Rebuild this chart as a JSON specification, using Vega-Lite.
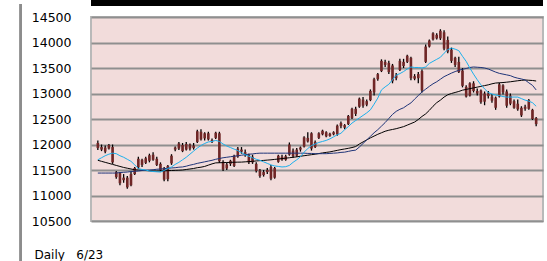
{
  "$schema": "https://vega.github.io/schema/vega-lite/v6.json",
  "autosize": {"type": "none"},
  "width": 452,
  "height": 204,
  "padding": {"left": 91, "top": 17, "right": 4, "bottom": 40},
  "background": "white",
  "config": {
    "view": {"fill": "#f2dcdb", "stroke": "#b9b9b9", "strokeWidth": 2},
    "font": "DejaVu Sans"
  },
  "data": {"values": [
    {"t":1,"open":12030,"high":12080,"low":11890,"close":11930,"ma1":11700,"ma2":11440,"ma3":11690},
    {"t":2,"open":11950,"high":12000,"low":11870,"close":11900,"ma1":11740,"ma2":11440,"ma3":11670},
    {"t":3,"open":11940,"high":11980,"low":11830,"close":11860,"ma1":11780,"ma2":11440,"ma3":11650},
    {"t":4,"open":11990,"high":12010,"low":11900,"close":11920,"ma1":11810,"ma2":11440,"ma3":11630},
    {"t":5,"open":11950,"high":12000,"low":11620,"close":11650,"ma1":11830,"ma2":11440,"ma3":11610},
    {"t":6,"open":11460,"high":11480,"low":11330,"close":11360,"ma1":11820,"ma2":11440,"ma3":11590},
    {"t":7,"open":11440,"high":11460,"low":11200,"close":11240,"ma1":11780,"ma2":11450,"ma3":11570},
    {"t":8,"open":11350,"high":11420,"low":11250,"close":11300,"ma1":11750,"ma2":11455,"ma3":11550},
    {"t":9,"open":11350,"high":11380,"low":11130,"close":11160,"ma1":11710,"ma2":11460,"ma3":11535},
    {"t":10,"open":11200,"high":11460,"low":11180,"close":11420,"ma1":11670,"ma2":11470,"ma3":11520},
    {"t":11,"open":11420,"high":11560,"low":11400,"close":11540,"ma1":11600,"ma2":11475,"ma3":11505},
    {"t":12,"open":11550,"high":11760,"low":11520,"close":11720,"ma1":11530,"ma2":11480,"ma3":11500},
    {"t":13,"open":11700,"high":11720,"low":11560,"close":11600,"ma1":11510,"ma2":11490,"ma3":11495},
    {"t":14,"open":11640,"high":11760,"low":11620,"close":11730,"ma1":11500,"ma2":11495,"ma3":11490},
    {"t":15,"open":11680,"high":11820,"low":11650,"close":11790,"ma1":11480,"ma2":11500,"ma3":11485},
    {"t":16,"open":11800,"high":11850,"low":11680,"close":11700,"ma1":11470,"ma2":11505,"ma3":11480},
    {"t":17,"open":11720,"high":11760,"low":11580,"close":11600,"ma1":11465,"ma2":11515,"ma3":11480},
    {"t":18,"open":11620,"high":11650,"low":11480,"close":11500,"ma1":11460,"ma2":11520,"ma3":11482},
    {"t":19,"open":11530,"high":11560,"low":11280,"close":11310,"ma1":11490,"ma2":11525,"ma3":11485},
    {"t":20,"open":11320,"high":11600,"low":11280,"close":11580,"ma1":11530,"ma2":11535,"ma3":11488},
    {"t":21,"open":11630,"high":11810,"low":11600,"close":11780,"ma1":11560,"ma2":11540,"ma3":11490},
    {"t":22,"open":11900,"high":11960,"low":11870,"close":11940,"ma1":11610,"ma2":11545,"ma3":11493},
    {"t":23,"open":11920,"high":12050,"low":11890,"close":12020,"ma1":11650,"ma2":11555,"ma3":11496},
    {"t":24,"open":11990,"high":12030,"low":11850,"close":11870,"ma1":11700,"ma2":11560,"ma3":11500},
    {"t":25,"open":11900,"high":12050,"low":11880,"close":12010,"ma1":11750,"ma2":11575,"ma3":11510},
    {"t":26,"open":12000,"high":12020,"low":11880,"close":11920,"ma1":11810,"ma2":11595,"ma3":11520},
    {"t":27,"open":11930,"high":12030,"low":11900,"close":11980,"ma1":11870,"ma2":11610,"ma3":11530},
    {"t":28,"open":12050,"high":12290,"low":12030,"close":12260,"ma1":11930,"ma2":11630,"ma3":11545},
    {"t":29,"open":12250,"high":12300,"low":12080,"close":12100,"ma1":11980,"ma2":11645,"ma3":11555},
    {"t":30,"open":12120,"high":12240,"low":12080,"close":12220,"ma1":12020,"ma2":11660,"ma3":11570},
    {"t":31,"open":12220,"high":12250,"low":12080,"close":12100,"ma1":12050,"ma2":11675,"ma3":11595},
    {"t":32,"open":12090,"high":12120,"low":12030,"close":12060,"ma1":12060,"ma2":11690,"ma3":11620},
    {"t":33,"open":12130,"high":12250,"low":12110,"close":12230,"ma1":12080,"ma2":11710,"ma3":11640},
    {"t":34,"open":12220,"high":12250,"low":11640,"close":11670,"ma1":12060,"ma2":11725,"ma3":11642},
    {"t":35,"open":11660,"high":11690,"low":11480,"close":11510,"ma1":12010,"ma2":11740,"ma3":11645},
    {"t":36,"open":11530,"high":11640,"low":11500,"close":11610,"ma1":11970,"ma2":11750,"ma3":11647},
    {"t":37,"open":11620,"high":11700,"low":11580,"close":11680,"ma1":11940,"ma2":11760,"ma3":11650},
    {"t":38,"open":11580,"high":11800,"low":11560,"close":11780,"ma1":11910,"ma2":11770,"ma3":11652},
    {"t":39,"open":11760,"high":11950,"low":11740,"close":11920,"ma1":11880,"ma2":11780,"ma3":11654},
    {"t":40,"open":11900,"high":11950,"low":11820,"close":11860,"ma1":11840,"ma2":11790,"ma3":11655},
    {"t":41,"open":11850,"high":11900,"low":11760,"close":11800,"ma1":11800,"ma2":11800,"ma3":11660},
    {"t":42,"open":11790,"high":11820,"low":11620,"close":11650,"ma1":11770,"ma2":11810,"ma3":11665},
    {"t":43,"open":11650,"high":11800,"low":11620,"close":11760,"ma1":11740,"ma2":11815,"ma3":11670},
    {"t":44,"open":11620,"high":11650,"low":11450,"close":11480,"ma1":11710,"ma2":11825,"ma3":11678},
    {"t":45,"open":11490,"high":11520,"low":11350,"close":11380,"ma1":11690,"ma2":11830,"ma3":11683},
    {"t":46,"open":11400,"high":11500,"low":11370,"close":11460,"ma1":11660,"ma2":11830,"ma3":11688},
    {"t":47,"open":11460,"high":11540,"low":11420,"close":11500,"ma1":11630,"ma2":11830,"ma3":11694},
    {"t":48,"open":11560,"high":11600,"low":11300,"close":11330,"ma1":11600,"ma2":11830,"ma3":11700},
    {"t":49,"open":11350,"high":11560,"low":11330,"close":11540,"ma1":11580,"ma2":11830,"ma3":11708},
    {"t":50,"open":11660,"high":11800,"low":11640,"close":11780,"ma1":11570,"ma2":11830,"ma3":11716},
    {"t":51,"open":11760,"high":11800,"low":11680,"close":11700,"ma1":11560,"ma2":11830,"ma3":11724},
    {"t":52,"open":11700,"high":11800,"low":11680,"close":11770,"ma1":11565,"ma2":11830,"ma3":11732},
    {"t":53,"open":11800,"high":12040,"low":11780,"close":12000,"ma1":11590,"ma2":11830,"ma3":11740},
    {"t":54,"open":11880,"high":11920,"low":11740,"close":11770,"ma1":11650,"ma2":11830,"ma3":11750},
    {"t":55,"open":11780,"high":11930,"low":11760,"close":11900,"ma1":11700,"ma2":11830,"ma3":11758},
    {"t":56,"open":11900,"high":11960,"low":11860,"close":11940,"ma1":11760,"ma2":11830,"ma3":11770},
    {"t":57,"open":11960,"high":12160,"low":11940,"close":12140,"ma1":11850,"ma2":11830,"ma3":11780},
    {"t":58,"open":12130,"high":12240,"low":12040,"close":12060,"ma1":11920,"ma2":11825,"ma3":11790},
    {"t":59,"open":12220,"high":12240,"low":11880,"close":11920,"ma1":11980,"ma2":11825,"ma3":11800},
    {"t":60,"open":11950,"high":12080,"low":11930,"close":12050,"ma1":12010,"ma2":11820,"ma3":11810},
    {"t":61,"open":12130,"high":12240,"low":12110,"close":12220,"ma1":12040,"ma2":11820,"ma3":11822},
    {"t":62,"open":12200,"high":12290,"low":12180,"close":12270,"ma1":12060,"ma2":11820,"ma3":11835},
    {"t":63,"open":12240,"high":12260,"low":12140,"close":12160,"ma1":12080,"ma2":11820,"ma3":11845},
    {"t":64,"open":12170,"high":12230,"low":12150,"close":12210,"ma1":12110,"ma2":11825,"ma3":11855},
    {"t":65,"open":12200,"high":12260,"low":12180,"close":12240,"ma1":12150,"ma2":11830,"ma3":11870},
    {"t":66,"open":12200,"high":12390,"low":12170,"close":12370,"ma1":12190,"ma2":11835,"ma3":11885},
    {"t":67,"open":12360,"high":12450,"low":12320,"close":12420,"ma1":12220,"ma2":11845,"ma3":11900},
    {"t":68,"open":12330,"high":12400,"low":12300,"close":12380,"ma1":12290,"ma2":11850,"ma3":11912},
    {"t":69,"open":12400,"high":12580,"low":12380,"close":12560,"ma1":12350,"ma2":11865,"ma3":11925},
    {"t":70,"open":12520,"high":12720,"low":12500,"close":12700,"ma1":12420,"ma2":11880,"ma3":11940},
    {"t":71,"open":12700,"high":12740,"low":12560,"close":12600,"ma1":12470,"ma2":11890,"ma3":11960},
    {"t":72,"open":12740,"high":12920,"low":12720,"close":12900,"ma1":12520,"ma2":11950,"ma3":12010},
    {"t":73,"open":12880,"high":12930,"low":12720,"close":12760,"ma1":12570,"ma2":12020,"ma3":12050},
    {"t":74,"open":12780,"high":12880,"low":12750,"close":12850,"ma1":12620,"ma2":12090,"ma3":12090},
    {"t":75,"open":12870,"high":13080,"low":12850,"close":13050,"ma1":12680,"ma2":12160,"ma3":12130},
    {"t":76,"open":13020,"high":13310,"low":12960,"close":13280,"ma1":12790,"ma2":12230,"ma3":12165},
    {"t":77,"open":13280,"high":13400,"low":13250,"close":13380,"ma1":12910,"ma2":12290,"ma3":12200},
    {"t":78,"open":13440,"high":13670,"low":13420,"close":13640,"ma1":13070,"ma2":12360,"ma3":12230},
    {"t":79,"open":13620,"high":13660,"low":13520,"close":13560,"ma1":13130,"ma2":12430,"ma3":12260},
    {"t":80,"open":13600,"high":13640,"low":13380,"close":13420,"ma1":13180,"ma2":12510,"ma3":12280},
    {"t":81,"open":13550,"high":13580,"low":13200,"close":13240,"ma1":13270,"ma2":12590,"ma3":12295},
    {"t":82,"open":13300,"high":13400,"low":13260,"close":13360,"ma1":13360,"ma2":12650,"ma3":12310},
    {"t":83,"open":13460,"high":13680,"low":13440,"close":13640,"ma1":13390,"ma2":12690,"ma3":12330},
    {"t":84,"open":13620,"high":13680,"low":13500,"close":13540,"ma1":13430,"ma2":12720,"ma3":12350},
    {"t":85,"open":13620,"high":13760,"low":13600,"close":13740,"ma1":13480,"ma2":12770,"ma3":12380},
    {"t":86,"open":13700,"high":13720,"low":13260,"close":13300,"ma1":13520,"ma2":12815,"ma3":12410},
    {"t":87,"open":13340,"high":13380,"low":13260,"close":13290,"ma1":13510,"ma2":12890,"ma3":12440},
    {"t":88,"open":13300,"high":13420,"low":13200,"close":13380,"ma1":13510,"ma2":12960,"ma3":12490},
    {"t":89,"open":13060,"high":13470,"low":13020,"close":13440,"ma1":13500,"ma2":13030,"ma3":12550},
    {"t":90,"open":13620,"high":13960,"low":13600,"close":13920,"ma1":13520,"ma2":13085,"ma3":12600},
    {"t":91,"open":13920,"high":14060,"low":13900,"close":14040,"ma1":13590,"ma2":13140,"ma3":12670},
    {"t":92,"open":14060,"high":14200,"low":14040,"close":14180,"ma1":13630,"ma2":13190,"ma3":12750},
    {"t":93,"open":14150,"high":14180,"low":14060,"close":14080,"ma1":13670,"ma2":13230,"ma3":12820},
    {"t":94,"open":14080,"high":14260,"low":14050,"close":14230,"ma1":13710,"ma2":13280,"ma3":12870},
    {"t":95,"open":14200,"high":14240,"low":13850,"close":13880,"ma1":13790,"ma2":13330,"ma3":12930},
    {"t":96,"open":14050,"high":14120,"low":13790,"close":13820,"ma1":13860,"ma2":13365,"ma3":12975},
    {"t":97,"open":13860,"high":13900,"low":13600,"close":13640,"ma1":13890,"ma2":13400,"ma3":13000},
    {"t":98,"open":13700,"high":13720,"low":13520,"close":13560,"ma1":13870,"ma2":13430,"ma3":13020},
    {"t":99,"open":13620,"high":13720,"low":13400,"close":13420,"ma1":13840,"ma2":13455,"ma3":13040},
    {"t":100,"open":13450,"high":13500,"low":13120,"close":13150,"ma1":13730,"ma2":13475,"ma3":13065},
    {"t":101,"open":13130,"high":13160,"low":12920,"close":12940,"ma1":13630,"ma2":13490,"ma3":13080},
    {"t":102,"open":12960,"high":13220,"low":12940,"close":13200,"ma1":13500,"ma2":13510,"ma3":13095},
    {"t":103,"open":13200,"high":13240,"low":13020,"close":13050,"ma1":13380,"ma2":13520,"ma3":13110},
    {"t":104,"open":13050,"high":13100,"low":12960,"close":13000,"ma1":13270,"ma2":13515,"ma3":13125},
    {"t":105,"open":13060,"high":13080,"low":12800,"close":12830,"ma1":13170,"ma2":13510,"ma3":13140},
    {"t":106,"open":12840,"high":13040,"low":12770,"close":13000,"ma1":13090,"ma2":13500,"ma3":13155},
    {"t":107,"open":13000,"high":13050,"low":12900,"close":12950,"ma1":13020,"ma2":13480,"ma3":13170},
    {"t":108,"open":12940,"high":12990,"low":12820,"close":12860,"ma1":12990,"ma2":13450,"ma3":13190},
    {"t":109,"open":12920,"high":12940,"low":12680,"close":12720,"ma1":12970,"ma2":13420,"ma3":13205},
    {"t":110,"open":12940,"high":13210,"low":12920,"close":13180,"ma1":12960,"ma2":13395,"ma3":13210},
    {"t":111,"open":13160,"high":13180,"low":12980,"close":13020,"ma1":12940,"ma2":13380,"ma3":13215},
    {"t":112,"open":13040,"high":13080,"low":12720,"close":12760,"ma1":12930,"ma2":13365,"ma3":13222},
    {"t":113,"open":12960,"high":13000,"low":12770,"close":12800,"ma1":12930,"ma2":13350,"ma3":13230},
    {"t":114,"open":12850,"high":12880,"low":12700,"close":12720,"ma1":12930,"ma2":13320,"ma3":13240},
    {"t":115,"open":12800,"high":12880,"low":12660,"close":12690,"ma1":12930,"ma2":13300,"ma3":13250},
    {"t":116,"open":12720,"high":12750,"low":12540,"close":12570,"ma1":12900,"ma2":13285,"ma3":13258},
    {"t":117,"open":12700,"high":12780,"low":12660,"close":12740,"ma1":12870,"ma2":13265,"ma3":13265},
    {"t":118,"open":12870,"high":12890,"low":12680,"close":12700,"ma1":12850,"ma2":13210,"ma3":13260},
    {"t":119,"open":12680,"high":12700,"low":12480,"close":12500,"ma1":12820,"ma2":13160,"ma3":13255},
    {"t":120,"open":12520,"high":12540,"low":12360,"close":12400,"ma1":12750,"ma2":13070,"ma3":13245}
  ]},
  "layer": [
    {
      "mark": {"type": "rule", "color": "#000000", "strokeWidth": 1.3},
      "encoding": {
        "x": {
          "field": "t", "type": "quantitative",
          "scale": {"domain": [0.5, 120.5], "nice": false, "zero": false},
          "axis": {
            "labels": false, "ticks": false, "domain": false, "grid": false,
            "title": "Daily\u00a0\u00a0\u00a06/23",
            "titleFont": "DejaVu Sans", "titleFontSize": 12, "titleFontWeight": "normal", "titleColor": "#000000",
            "titleAnchor": "start", "titleAlign": "left", "titleX": -57, "titleY": 37, "titleBaseline": "alphabetic"
          }
        },
        "y": {
          "field": "low", "type": "quantitative",
          "scale": {"domain": [10500, 14500], "nice": false, "zero": false},
          "axis": {
            "values": [10500, 11000, 11500, 12000, 12500, 13000, 13500, 14000, 14500],
            "tickCount": 20, "labelOverlap": false,
            "format": "d", "title": null, "domain": false, "ticks": false,
            "grid": true, "gridColor": "#8f8f8f", "gridWidth": 2,
            "labelFont": "DejaVu Sans", "labelFontSize": 12.5, "labelColor": "#000000", "labelPadding": 20
          }
        },
        "y2": {"field": "high"}
      }
    },
    {
      "mark": {"type": "bar", "color": "#702626", "size": 2.6},
      "encoding": {
        "x": {"field": "t", "type": "quantitative"},
        "y": {"field": "open", "type": "quantitative"},
        "y2": {"field": "close"}
      }
    },
    {
      "mark": {"type": "line", "color": "#000000", "strokeWidth": 1},
      "encoding": {
        "x": {"field": "t", "type": "quantitative"},
        "y": {"field": "ma3", "type": "quantitative"}
      }
    },
    {
      "mark": {"type": "line", "color": "#1f3478", "strokeWidth": 1},
      "encoding": {
        "x": {"field": "t", "type": "quantitative"},
        "y": {"field": "ma2", "type": "quantitative"}
      }
    },
    {
      "mark": {"type": "line", "color": "#1cb0ec", "strokeWidth": 1},
      "encoding": {
        "x": {"field": "t", "type": "quantitative"},
        "y": {"field": "ma1", "type": "quantitative"}
      }
    },
    {
      "mark": {"type": "rule", "color": "#8c8c8c", "strokeWidth": 1.5},
      "encoding": {
        "x": {"datum": -19.94, "type": "quantitative"},
        "y": {"datum": 14755, "type": "quantitative"},
        "y2": {"datum": 9716}
      }
    },
    {
      "mark": {"type": "rule", "color": "#000000", "strokeWidth": 5},
      "encoding": {
        "y": {"datum": 14780, "type": "quantitative"}
      }
    }
  ]
}
